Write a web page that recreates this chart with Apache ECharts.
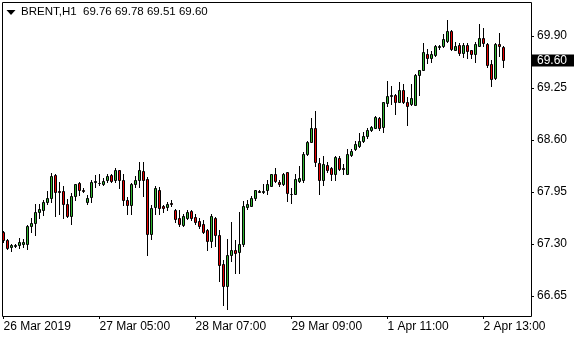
<!DOCTYPE html>
<html>
<head>
<meta charset="utf-8">
<script src="https://cdn.jsdelivr.net/npm/echarts@6/dist/echarts.min.js"></script>
<style>
html,body{margin:0;padding:0;background:#fff;}
#c{width:580px;height:340px;}
</style>
</head>
<body>
<div id="c"></div>
<script>
var symbol = 'BRENT,H1';
var opens = [67.45,67.35,67.26,67.27,67.29,67.30,67.30,67.52,67.56,67.70,67.73,67.83,67.88,68.16,67.96,67.96,67.80,67.65,67.90,68.06,67.97,67.83,67.89,68.08,68.06,68.05,
68.10,68.16,68.10,68.22,68.10,67.85,67.79,68.05,68.10,68.21,68.11,67.43,67.76,67.98,67.77,67.76,67.81,67.73,67.62,67.54,67.63,67.71,67.64,67.59,67.55,67.47,67.34,67.63,67.41,67.05,
66.78,67.16,67.22,67.20,67.30,67.76,67.78,67.87,67.96,67.95,67.97,68.03,68.17,68.08,68.05,68.20,67.93,67.93,68.09,68.10,68.43,68.58,68.75,68.31,68.10,68.29,68.25,68.18,68.38,68.25,
68.18,68.41,68.49,68.53,68.59,68.65,68.72,68.75,68.88,68.76,69.06,69.15,69.16,69.08,69.22,69.08,69.05,69.04,69.41,69.48,69.68,69.62,69.66,69.76,69.77,69.84,69.96,69.73,69.79,69.69,
69.79,69.72,69.68,69.78,69.88,69.80,69.55,69.37,69.80,69.76];
var highs = [67.46,67.36,67.30,67.30,67.38,67.36,67.54,67.62,67.80,67.80,67.85,67.96,68.19,68.17,68.07,68.02,67.86,67.94,68.05,68.07,68.00,67.91,68.10,68.16,68.17,68.13,
68.18,68.18,68.25,68.23,68.17,67.89,68.06,68.15,68.32,68.33,68.14,67.79,68.02,68.01,67.79,67.82,67.85,67.74,67.73,67.68,67.72,67.72,67.68,67.62,67.60,67.49,67.68,67.64,67.47,67.10,
67.36,67.57,67.35,67.70,67.84,67.85,67.90,67.98,67.97,68.05,68.10,68.18,68.25,68.10,68.19,68.20,68.00,68.18,68.28,68.45,68.59,68.87,68.96,68.37,68.40,68.33,68.26,68.40,68.40,68.30,
68.49,68.49,68.59,68.69,68.70,68.75,68.78,68.90,68.89,69.08,69.34,69.28,69.18,69.32,69.30,69.14,69.30,69.42,69.48,69.81,69.74,69.71,69.79,69.79,69.92,70.10,69.98,69.83,69.81,69.81,
69.81,69.73,69.83,70.05,70.00,69.81,69.60,69.81,69.94,69.78];
var lows = [67.33,67.24,67.21,67.26,67.25,67.26,67.24,67.45,67.41,67.63,67.66,67.80,67.82,67.65,67.68,67.62,67.64,67.55,67.85,67.91,67.95,67.80,67.82,68.01,68.04,68.04,
68.08,68.08,68.08,68.00,67.79,67.68,67.68,68.01,68.01,67.90,67.16,67.36,67.68,67.68,67.70,67.73,67.78,67.57,67.52,67.52,67.61,67.60,67.55,67.50,67.44,67.22,67.26,67.27,66.84,66.54,
66.49,67.09,66.94,66.94,67.28,67.74,67.77,67.85,67.95,67.94,67.93,68.02,68.07,68.02,68.04,67.84,67.81,67.92,68.07,68.08,68.41,68.57,68.27,67.93,68.04,68.20,68.10,68.10,68.22,68.18,
68.18,68.40,68.48,68.51,68.58,68.62,68.71,68.75,68.73,68.70,69.02,69.05,68.93,69.07,69.06,68.79,69.04,69.04,69.16,69.47,69.56,69.58,69.65,69.74,69.76,69.83,69.72,69.72,69.66,69.64,
69.63,69.62,69.57,69.77,69.77,69.51,69.27,69.36,69.65,69.51];
var closes = [67.35,67.25,67.29,67.29,67.32,67.33,67.52,67.56,67.70,67.74,67.82,67.88,68.15,67.95,67.95,67.80,67.65,67.90,68.05,67.97,67.96,67.87,68.07,68.09,68.06,68.09,
68.15,68.09,68.22,68.10,67.85,67.79,68.05,68.10,68.22,68.10,67.43,67.75,68.00,67.75,67.75,67.80,67.80,67.61,67.55,67.65,67.70,67.62,67.57,67.52,67.45,67.34,67.65,67.41,67.04,66.78,
67.16,67.23,67.19,67.30,67.78,67.80,67.88,67.97,67.95,67.96,68.05,68.17,68.09,68.05,68.17,67.94,67.92,68.11,68.12,68.42,68.57,68.75,68.32,68.10,68.30,68.23,68.18,68.39,68.24,68.24,
68.43,68.46,68.55,68.59,68.65,68.72,68.76,68.89,68.75,69.07,69.15,69.16,69.08,69.22,69.07,69.03,69.13,69.41,69.48,69.70,69.62,69.68,69.78,69.77,69.86,69.96,69.74,69.78,69.69,69.79,
69.71,69.67,69.80,69.88,69.81,69.54,69.36,69.80,69.77,69.60];
var timeLabels = ['26 Mar 2019','27 Mar 05:00','28 Mar 07:00','29 Mar 09:00','1 Apr 11:00','2 Apr 13:00'];
var timeLabelBars = [0,24,48,72,96,120];
var priceTicks = [66.65,67.30,67.95,68.60,69.25,69.90];
var priceMin = 66.40, priceMax = 70.325;
var shiftBars = 6;

var totalBars = opens.length + shiftBars;
var categories = [];
for (var i = 0; i < totalBars; i++) categories.push('');
timeLabelBars.forEach(function(b, j){ categories[b] = timeLabels[j]; });
function isLabelBar(idx){ return timeLabelBars.indexOf(idx) >= 0; }

var candles = opens.map(function(o, i){ return [i, o, closes[i], lows[i], highs[i]]; });

var UP = '#2fb52f', DOWN = '#e60000';
var FONT = 'Liberation Sans';
var last = opens.length - 1;

var chart = echarts.init(document.getElementById('c'), null, {renderer:'canvas'});
chart.setOption({
  animation:false,
  backgroundColor:'#fff',
  grid:{left:1.5, top:2, width:528, height:314, containLabel:false},
  xAxis:{
    type:'category', data:categories, boundaryGap:true,
    axisLine:{show:false},
    axisTick:{show:true, alignWithLabel:true, length:3, interval:function(idx){return isLabelBar(idx);}, lineStyle:{color:'#000'}},
    axisLabel:{show:true, interval:function(idx){return isLabelBar(idx);}, align:'left', margin:5, color:'#000', fontSize:12, fontFamily:FONT},
    splitLine:{show:false}
  },
  yAxis:{
    type:'value', position:'right', offset:1.5, min:priceMin, max:priceMax, scale:true,
    axisLine:{show:false},
    axisTick:{show:true, length:3, customValues:priceTicks, lineStyle:{color:'#000'}},
    axisLabel:{show:true, customValues:priceTicks, margin:6, color:'#000', fontSize:12, fontFamily:FONT,
      formatter:function(v){return v.toFixed(2);}},
    splitLine:{show:false}
  },
  series:[{
    type:'custom',
    data:candles,
    encode:{x:0, y:[1,2,3,4]},
    clip:true,
    renderItem:function(params, api){
      var k = api.value(0), o = api.value(1), c = api.value(2), l = api.value(3), h = api.value(4);
      var pO = api.coord([k, o]), pC = api.coord([k, c]), pL = api.coord([k, l]), pH = api.coord([k, h]);
      var cx = Math.floor(pO[0]) + 0.5;
      var yTop = Math.round(Math.min(pO[1], pC[1])) + 0.5;
      var yBot = Math.round(Math.max(pO[1], pC[1])) + 0.5;
      var yH = Math.round(pH[1]), yL = Math.round(pL[1]) + 1;
      var fill = c > o ? UP : (c < o ? DOWN : '#000');
      return {type:'group', children:[
        {type:'line', shape:{x1:cx, y1:yH, x2:cx, y2:yL}, style:{stroke:'#000', lineWidth:1}},
        {type:'rect', shape:{x:cx-1, y:yTop, width:2, height:yBot-yTop}, style:{fill:fill, stroke:'#000', lineWidth:1}}
      ]};
    }
  }]
});

var yLast = chart.convertToPixel({yAxisIndex:0}, closes[last]);
var header = symbol + '  ' + [opens[last], highs[last], lows[last], closes[last]].map(function(v){return v.toFixed(2);}).join(' ');
chart.setOption({
  graphic:[
    {type:'rect', silent:true, shape:{x:2.5, y:2.5, width:529, height:314}, style:{fill:'none', stroke:'#000', lineWidth:1}, z:10},
    {type:'polygon', silent:true, shape:{points:[[6.5,10],[15.5,10],[11,15]]}, style:{fill:'#000'}, z:10},
    {type:'text', silent:true, x:21, y:12, style:{text:header, fill:'#000', font:'11.5px "'+FONT+'"', textVerticalAlign:'middle'}, z:10},
    {type:'rect', silent:true, shape:{x:532, y:Math.round(yLast)-5.5, width:42, height:12}, style:{fill:'#000'}, z:10},
    {type:'text', silent:true, x:537, y:Math.round(yLast)+0.5, style:{text:closes[last].toFixed(2), fill:'#fff', font:'12px "'+FONT+'"', textVerticalAlign:'middle'}, z:11}
  ]
});
</script>
</body>
</html>
